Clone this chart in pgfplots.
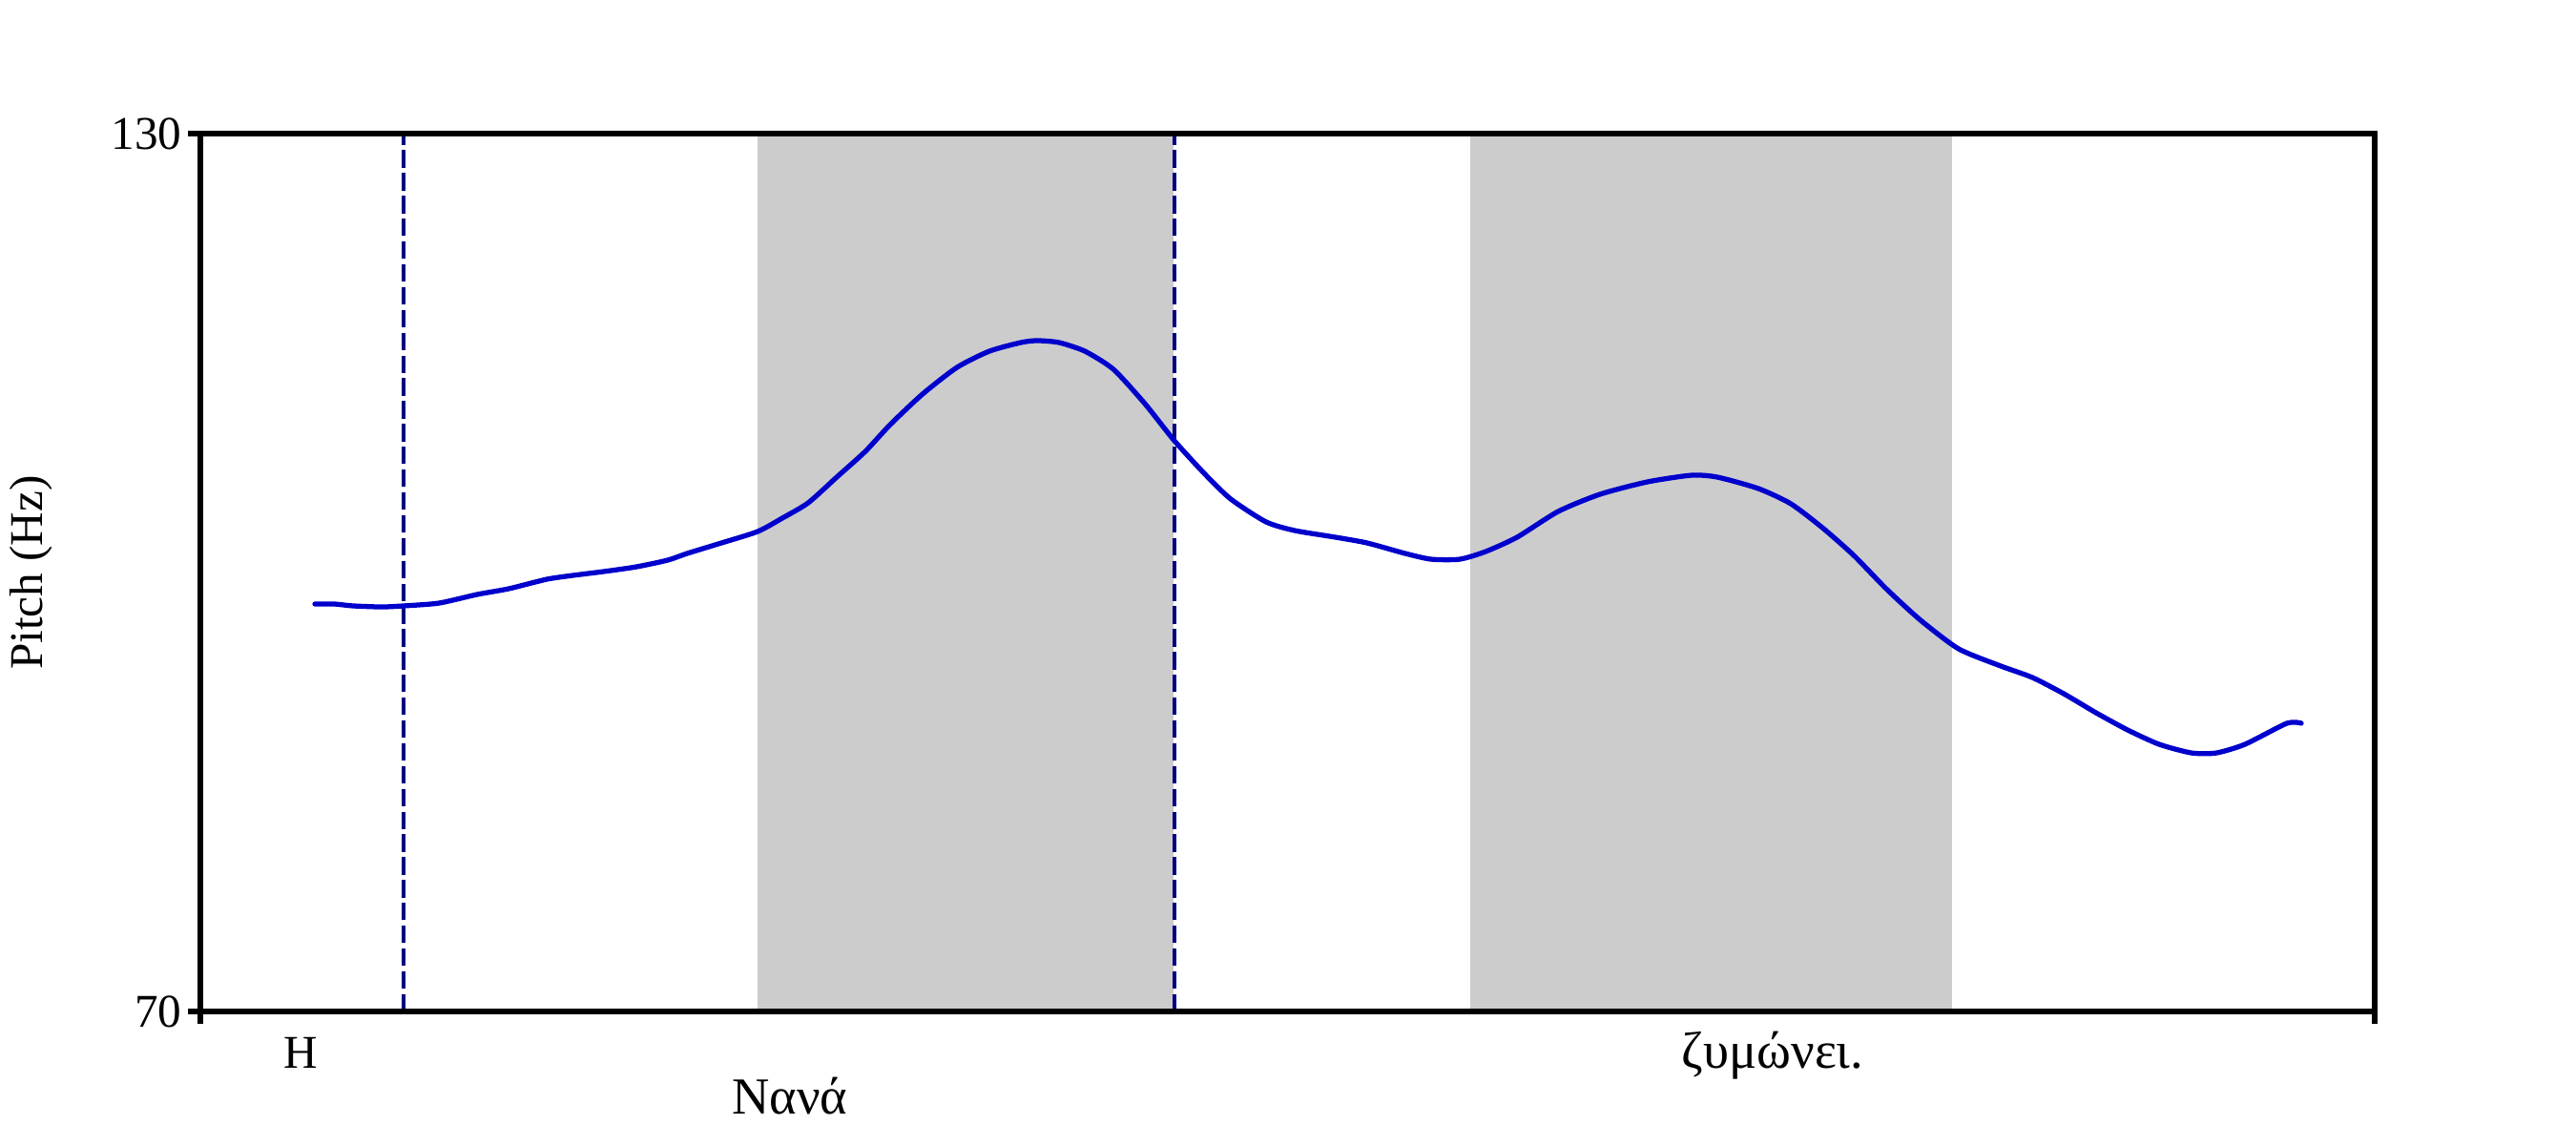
\documentclass[border=0pt]{standalone}
\usepackage{fontspec}
\setmainfont{Liberation Serif}
\usepackage{pgfplots}
\pgfplotsset{compat=1.18}
\definecolor{pitchblue}{RGB}{0,0,204}
\definecolor{navyline}{RGB}{0,0,128}
\definecolor{bandgray}{RGB}{204,204,204}
\begin{document}
\begin{tikzpicture}
\path[use as bounding box] (0,0) rectangle (27cm,12cm);
\begin{axis}[
  at={(2.10cm,1.40cm)}, anchor=south west,
  width=22.79cm, height=9.2cm, scale only axis,
  xmin=210, xmax=2489, ymin=70, ymax=130,
  axis on top, clip=false,
  axis line style={line width=1.5pt},
  xtick={210,2489}, xticklabels={},
  ytick={70,130},
  xtick pos=bottom, ytick pos=left,
  tick align=outside, major tick length=1.3mm,
  tick style={black, line width=1.5pt},
  /pgf/number format/assume math mode=true,
  yticklabel style={font=\fontsize{14}{16}\selectfont, inner sep=0.6mm},
  ylabel={Pitch (Hz)},
  ylabel style={at={(axis description cs:-0.0777,0.5)}, anchor=center, font=\fontsize{14}{16}\selectfont},
]
% shaded intervals
\addplot[draw=none, fill=bandgray] coordinates {(794,70) (794,130) (1230,130) (1230,70)} -- cycle;
\addplot[draw=none, fill=bandgray] coordinates {(1541,70) (1541,130) (2046,130) (2046,70)} -- cycle;
% dashed boundaries
\addplot[navyline, line width=1.1pt, dash pattern=on 5.2pt off 1.6pt] coordinates {(423,70) (423,130)};
\addplot[navyline, line width=1.1pt, dash pattern=on 5.2pt off 1.6pt] coordinates {(1231,70) (1231,130)};
% pitch contour
\addplot[pitchblue, line width=1.5pt, smooth, tension=0.4, line cap=round] coordinates {
(330,97.85) (350,97.85) (370,97.72) (400,97.65) (423,97.72) (460,97.91)
(500,98.50) (533,98.89) (573,99.54) (600,99.80) (633,100.07) (667,100.39)
(700,100.85) (720,101.30) (753,101.96) (794,102.80) (820,103.72) (847,104.76)
(877,106.52) (907,108.28) (933,110.11) (967,112.20) (1003,114.02) (1037,115.13)
(1070,115.72) (1087,115.85) (1110,115.72) (1137,115.13) (1167,113.89) (1200,111.54)
(1231,109.00) (1263,106.72) (1290,105.02) (1327,103.46) (1357,102.87) (1400,102.41)
(1433,102.02) (1473,101.30) (1500,100.91) (1530,100.91) (1557,101.43) (1590,102.41)
(1633,104.17) (1677,105.35) (1727,106.20) (1773,106.65) (1800,106.52) (1843,105.74)
(1877,104.70) (1910,103.07) (1943,101.17) (1977,98.89) (2013,96.74) (2053,94.78)
(2097,93.61) (2130,92.83) (2163,91.72) (2197,90.41) (2230,89.24) (2263,88.26)
(2297,87.67) (2323,87.67) (2353,88.26) (2397,89.70) (2412,89.70)
};
% word labels
\node[anchor=base, font=\fontsize{14}{16}\selectfont, inner sep=0pt] at (axis cs:315,66.09) {Η};
\node[anchor=base, font=\fontsize{15.5}{18}\selectfont, inner sep=0pt] at (axis cs:828,63.02) {Νανά};
\node[anchor=base, font=\fontsize{15.5}{18}\selectfont, inner sep=0pt] at (axis cs:1858,66.09) {ζυμώνει.};
\end{axis}
\end{tikzpicture}
\end{document}
